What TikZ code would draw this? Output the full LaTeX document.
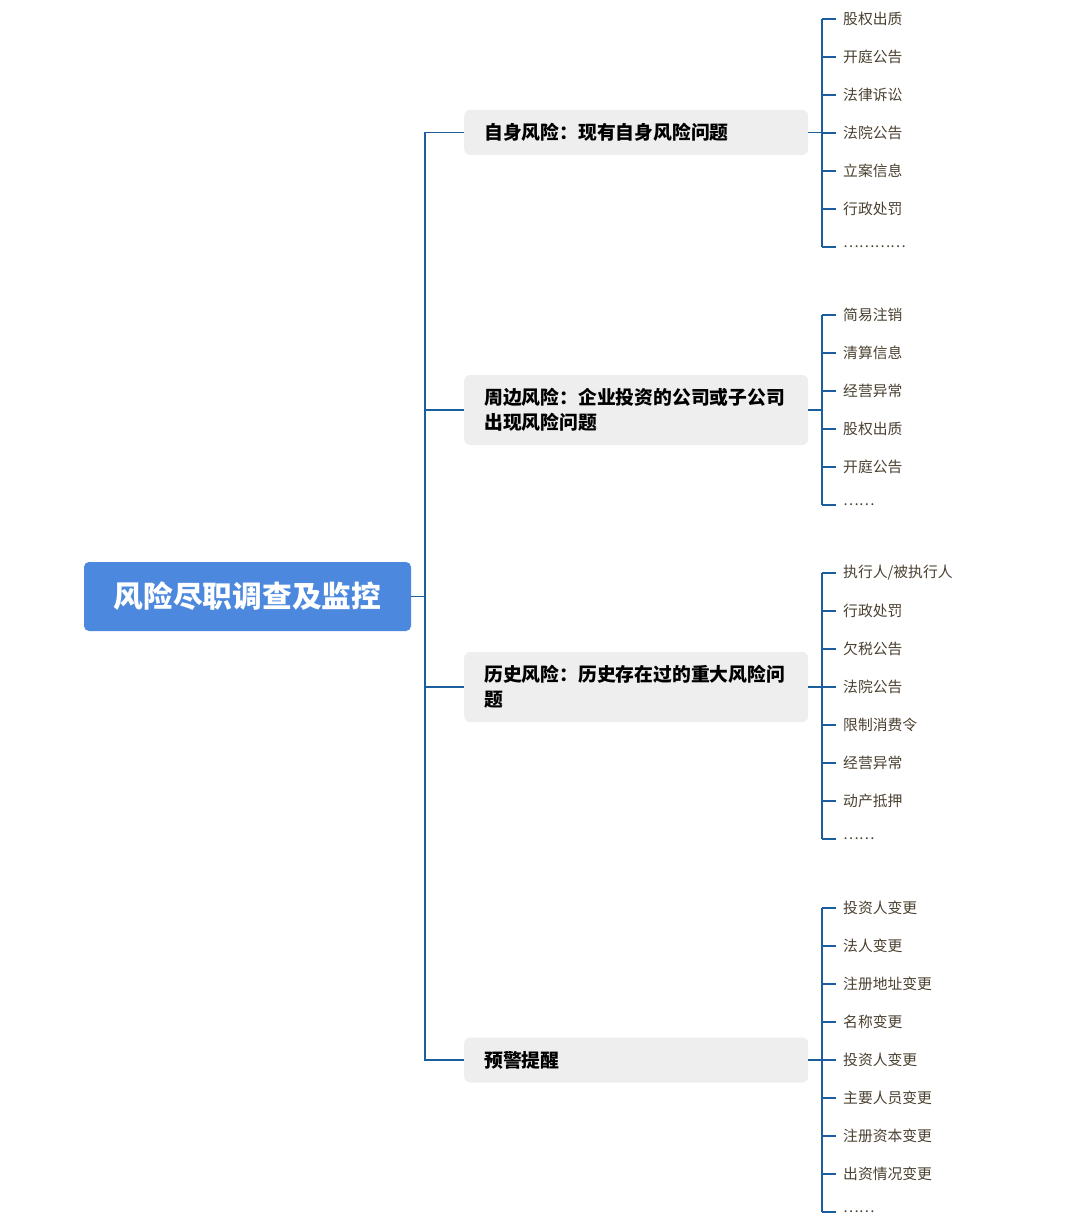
\documentclass[tikz,border=0pt]{standalone}
\usepackage{fontspec}
\newfontfamily\cjk{Noto Sans CJK SC}
\begin{document}
\begin{tikzpicture}[x=1pt,y=-1pt,
  conn/.style={draw=linec,line width=1.6pt},
  rootbox/.style={fill=rootc,rounded corners=5pt,minimum width=327pt,minimum height=69pt,text=white,font=\cjk\bfseries\fontsize{29.7}{32}\selectfont,inner sep=0pt},
  catbox/.style={fill=catc,rounded corners=6pt,minimum width=344pt,anchor=west,text width=304pt,align=left,inner xsep=20pt,font=\cjk\bfseries\fontsize{18.8}{25}\selectfont},
  leaf/.style={anchor=west,inner sep=0pt,text=leafc,font=\cjk\fontsize{14.8}{16}\selectfont}]
\definecolor{linec}{HTML}{1B5E9E}
\definecolor{rootc}{HTML}{4C89DE}
\definecolor{catc}{HTML}{EEEEEE}
\definecolor{leafc}{HTML}{4A4030}
\useasboundingbox (0,0) rectangle (1080,1222);
\node[rootbox] (root) at (247.5,596.5) {风险尽职调查及监控};
\node[catbox,minimum height=45pt] (c1) at (464,132.5) {自身风险：现有自身风险问题};
\node[catbox,minimum height=70pt] (c2) at (464,410) {周边风险：企业投资的公司或子公司\\出现风险问题};
\node[catbox,minimum height=70pt] (c3) at (464,687) {历史风险：历史存在过的重大风险问\\题};
\node[catbox,minimum height=45pt] (c4) at (464,1060) {预警提醒};
\coordinate (t) at (425,596.5);
\draw[conn] (root.east) -- (t);
\foreach \c in {c1,c2,c3,c4} \draw[conn] (t) |- (\c.west);
\newcommand\leafgroup[4]{%
  \coordinate (#2v) at (822,0);
  \foreach \t [count=\i] in {#4} {
    \node[leaf] (#2\i) at (843,{#3+38*(\i-1)}) {\t};
    \draw[conn] (#2v |- #2\i) -- ++(14,0);
  }
}
\leafgroup{c1}{a}{19}{股权出质,开庭公告,法律诉讼,法院公告,立案信息,行政处罚,…………}
\draw[conn] (c1.east) -- (c1.east -| av);
\draw[conn] (av |- a1) -- (av |- a7);
\leafgroup{c2}{b}{315}{简易注销,清算信息,经营异常,股权出质,开庭公告,……}
\draw[conn] (c2.east) -- (c2.east -| bv);
\draw[conn] (bv |- b1) -- (bv |- b6);
\leafgroup{c3}{d}{573}{执行人/被执行人,行政处罚,欠税公告,法院公告,限制消费令,经营异常,动产抵押,……}
\draw[conn] (c3.east) -- (c3.east -| dv);
\draw[conn] (dv |- d1) -- (dv |- d8);
\leafgroup{c4}{e}{908}{投资人变更,法人变更,注册地址变更,名称变更,投资人变更,主要人员变更,注册资本变更,出资情况变更,……}
\draw[conn] (c4.east) -- (c4.east -| ev);
\draw[conn] (ev |- e1) -- (ev |- e9);
\end{tikzpicture}
\end{document}
